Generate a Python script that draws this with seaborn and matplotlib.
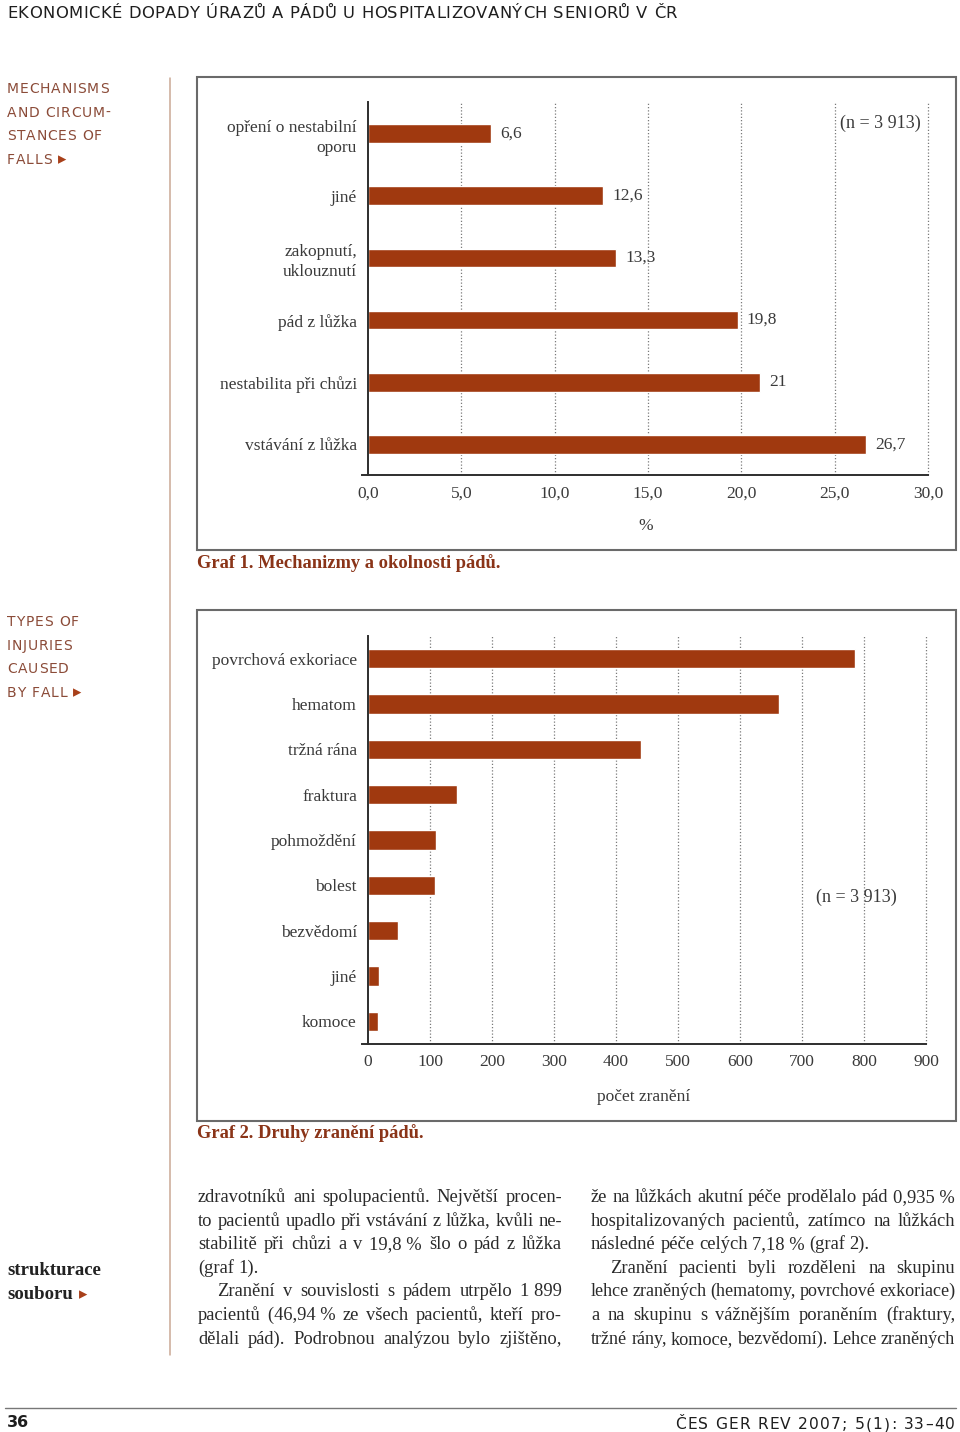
import numpy as np
import pandas as pd
import matplotlib
matplotlib.use("Agg")
import matplotlib.pyplot as plt
import seaborn as sns
from matplotlib.patches import Rectangle
from matplotlib.lines import Line2D
from matplotlib.font_manager import FontProperties

# ---------------- data ----------------
mech_labels = ["opření o nestabilní\noporu", "jiné", "zakopnutí,\nuklouznutí",
               "pád z lůžka", "nestabilita při chůzi", "vstávání z lůžka"]
mech_values = [6.6, 12.6, 13.3, 19.8, 21.0, 26.7]
mech_value_text = ["6,6", "12,6", "13,3", "19,8", "21", "26,7"]
mech_xticks = [0, 5, 10, 15, 20, 25, 30]
mech_xticklabels = ["0,0", "5,0", "10,0", "15,0", "20,0", "25,0", "30,0"]

inj_labels = ["povrchová exkoriace", "hematom", "tržná rána", "fraktura",
              "pohmoždění", "bolest", "bezvědomí", "jiné", "komoce"]
inj_values = [786, 663, 441, 144, 110, 108, 48, 17, 16]
inj_xticks = [0, 100, 200, 300, 400, 500, 600, 700, 800, 900]
inj_xticklabels = ["0", "100", "200", "300", "400", "500", "600", "700", "800", "900"]

header = "EKONOMICKÉ DOPADY ÚRAZŮ A PÁDŮ U HOSPITALIZOVANÝCH SENIORŮ V ČR"
side1 = ["MECHANISMS", "AND CIRCUM-", "STANCES OF", "FALLS"]
side2 = ["TYPES OF", "INJURIES", "CAUSED", "BY FALL"]
side3 = ["strukturace", "souboru"]
caption1 = "Graf 1. Mechanizmy a okolnosti pádů."
caption2 = "Graf 2. Druhy zranění pádů."
n_text = "(n = 3\u00a0913)"
col_left = [
    ("zdravotníků ani spolupacientů. Největší procen-", True, False),
    ("to pacientů upadlo při vstávání z lůžka, kvůli ne-", True, False),
    ("stabilitě při chůzi a v 19,8\u00a0% šlo o pád z lůžka", True, False),
    ("(graf 1).", False, False),
    ("Zranění v souvislosti s pádem utrpělo 1\u00a0899", True, True),
    ("pacientů (46,94\u00a0% ze všech pacientů, kteří pro-", True, False),
    ("dělali pád). Podrobnou analýzou bylo zjištěno,", True, False),
]
col_right = [
    ("že na lůžkách akutní péče prodělalo pád 0,935\u00a0%", True, False),
    ("hospitalizovaných pacientů, zatímco na lůžkách", True, False),
    ("následné péče celých 7,18\u00a0% (graf 2).", False, False),
    ("Zranění pacienti byli rozděleni na skupinu", True, True),
    ("lehce zraněných (hematomy, povrchové exkoriace)", True, False),
    ("a na skupinu s vážnějším poraněním (fraktury,", True, False),
    ("tržné rány, komoce, bezvědomí). Lehce zraněných", True, False),
]
footer_left = "36"
footer_right = "ČES GER REV 2007; 5(1): 33–40"

# ---------------- style ----------------
W, H = 960, 1432
sns.set_theme(style="white")
plt.rcParams["font.family"] = ["Liberation Serif", "DejaVu Serif", "DejaVu Sans"]
plt.rcParams["axes.unicode_minus"] = False

BAR = "#A0390F"
TXT = "#3a3a3a"
CAP = "#8A3418"
SIDE = "#8B4B38"
TRI = "#A8401A"
GRID = "#7a7a7a"
AXC = "#2e2e2e"
FRAME = "#6a6a6a"

fig = plt.figure(figsize=(W / 100, H / 100), dpi=100)
fig.patch.set_facecolor("white")
renderer = fig.canvas.get_renderer()


def fx(px):
    return px / W


def fy(py):
    return 1 - py / H


def T(x, y, s, **kw):
    return fig.text(fx(x), fy(y), s, **kw)


def text_w(s, fp):
    w, h, d = renderer.get_text_width_height_descent(s, fp, ismath=False)
    return w


def tracked(x0, ybase, s, fp, color, total=None, track=0.0):
    """Draw text char by char with letter spacing (to mimic an extended face)."""
    ws = []
    for ch in s:
        if ch == " ":
            ws.append(text_w("a a", fp) - text_w("aa", fp))
        else:
            ws.append(text_w(ch, fp))
    if total is not None and len(s) > 1:
        track = (total - sum(ws)) / (len(s) - 1)
    x = x0
    for ch, w in zip(s, ws):
        if ch != " ":
            T(x, ybase, ch, fontproperties=fp, color=color, va="baseline", ha="left")
        x += w + track
    return x


def style_axes(ax, xmin, xmax, ticks, ticklabels, nbands, xlabel, labelpad):
    ax.set_xlim(xmin, xmax)
    ax.set_ylim(nbands - 0.5, -0.5)
    for s in ["top", "right"]:
        ax.spines[s].set_visible(False)
    ax.spines["left"].set_position(("data", 0))
    for s in ["left", "bottom"]:
        ax.spines[s].set_color(AXC)
        ax.spines[s].set_linewidth(1.4)
    ax.set_xticks(ticks)
    ax.set_xticklabels(ticklabels)
    ax.tick_params(axis="x", direction="inout", length=8, width=1.2, color=AXC,
                   pad=3, labelsize=12.5, labelcolor=TXT)
    ax.tick_params(axis="y", which="major", length=0, pad=8, labelsize=12.5,
                   labelcolor=TXT)
    ax.set_yticks(np.arange(-0.5, nbands + 0.5, 1.0), minor=True)
    ax.tick_params(axis="y", which="minor", direction="out", length=5, width=1.2,
                   color=AXC)
    for t in ticks[1:]:
        ax.axvline(t, color=GRID, ls=(0, (1, 1.6)), lw=0.9, zorder=0, clip_on=False)
    ax.set_xlabel(xlabel, fontsize=12.5, color=TXT, labelpad=labelpad)
    ax.set_ylabel("")
    ax.set_facecolor("none")
    for lab in ax.get_yticklabels():
        lab.set_multialignment("right")
        lab.set_linespacing(1.35)


# ---------------- chart 1 ----------------
sc1 = (928 - 368) / 30.0
xmin1 = -0.3
left1 = 368 + xmin1 * sc1
ax1 = fig.add_axes([fx(left1), fy(475.5), (928 - left1) / W, (475.5 - 102.5) / H])
df1 = pd.DataFrame({"label": mech_labels, "value": mech_values})
sns.barplot(data=df1, x="value", y="label", orient="h", color=BAR, saturation=1,
            width=0.3, ax=ax1, zorder=2)
style_axes(ax1, xmin1, 30, mech_xticks, mech_xticklabels, len(mech_labels), "%", 12)
ax1.bar_label(ax1.containers[0], labels=mech_value_text, padding=6.5,
              fontsize=12.5, color=TXT)

# ---------------- chart 2 ----------------
sc2 = (926 - 368) / 900.0
xmin2 = -10
left2 = 368 + xmin2 * sc2
ax2 = fig.add_axes([fx(left2), fy(1044), (926 - left2) / W, (1044 - 636) / H])
df2 = pd.DataFrame({"label": inj_labels, "value": inj_values})
sns.barplot(data=df2, x="value", y="label", orient="h", color=BAR, saturation=1,
            width=0.42, ax=ax2, zorder=2)
style_axes(ax2, xmin2, 900, inj_xticks, inj_xticklabels, len(inj_labels),
           "počet zranění", 14)

# n labels
T(840, 123, n_text, fontsize=13, color=TXT, va="center", ha="left")
T(816, 897, n_text, fontsize=13, color=TXT, va="center", ha="left")

# ---------------- frames & rules ----------------
for (x0, y0, x1, y1) in [(197, 77, 956, 550), (197, 610, 956, 1121)]:
    fig.patches.append(Rectangle((fx(x0), fy(y1)), (x1 - x0) / W, (y1 - y0) / H,
                                 transform=fig.transFigure, fill=False,
                                 edgecolor=FRAME, lw=1.5))
fig.lines.append(Line2D([fx(170), fx(170)], [fy(78), fy(1355)],
                        transform=fig.transFigure, color="#caa894", lw=1.1))
fig.lines.append(Line2D([fx(5), fx(956)], [fy(1408), fy(1408)],
                        transform=fig.transFigure, color="#777777", lw=1.0))

# captions
T(197, 563, caption1, fontsize=13.3, color=CAP, fontweight="bold", va="center")
T(197, 1133, caption2, fontsize=13.3, color=CAP, fontweight="bold", va="center")

# header & footer (extended sans mimicked with tracking)
fp_head = FontProperties(family="DejaVu Sans", size=11.8)
tracked(7, 18, header, fp_head, "#1e1e1e", total=670)
fp_foot = FontProperties(family="DejaVu Sans", size=11.5, weight="bold")
tracked(7, 1427, footer_left, fp_foot, "#1e1e1e", total=21)
fp_foot2 = FontProperties(family="DejaVu Sans", size=11.2)
tracked(675, 1429, footer_right, fp_foot2, "#1e1e1e", total=280)

# side labels
fp_side = FontProperties(family="DejaVu Sans", size=10)
for i, line in enumerate(side1):
    xe = tracked(7, 93 + 23.7 * i, line, fp_side, SIDE, track=0.8)
T(xe + 5, 93 + 23.7 * 3, "▸", family="DejaVu Sans", fontsize=12, color=TRI,
  va="baseline")
for i, line in enumerate(side2):
    xe = tracked(7, 626 + 23.7 * i, line, fp_side, SIDE, track=0.8)
T(xe + 5, 626 + 23.7 * 3, "▸", family="DejaVu Sans", fontsize=12, color=TRI,
  va="baseline")

fp_s3 = FontProperties(family="Liberation Serif", size=13.5, weight="bold")
for i, line in enumerate(side3):
    T(7, 1275 + 24 * i, line, fontproperties=fp_s3, color="#222222", va="baseline")
T(7 + text_w(side3[-1], fp_s3) + 6, 1275 + 24, "▸", family="DejaVu Sans",
  fontsize=12, color=TRI, va="baseline")


# body text (justified, font shrunk per line if the line would be too tight)
def body_line(x0, x1, ybase, line, justify, indent):
    xs = x0 + (19 if indent else 0)
    words = line.split(" ")
    size = 13.3
    while True:
        fp = FontProperties(family="Liberation Serif", size=size)
        space_w = text_w("a a", fp) - text_w("aa", fp)
        widths = [text_w(w, fp) for w in words]
        if justify and len(words) > 1:
            gap = (x1 - xs - sum(widths)) / (len(words) - 1)
        else:
            gap = space_w
        if gap >= 0.75 * space_w or size <= 11:
            break
        size -= 0.1
    x = xs
    for w, wd in zip(words, widths):
        T(x, ybase, w, fontproperties=fp, color="#2a2a2a", va="baseline",
          ha="left")
        x += wd + gap


for i, (line, j, ind) in enumerate(col_left):
    body_line(198, 562, 1202 + 23.6 * i, line, j, ind)
for i, (line, j, ind) in enumerate(col_right):
    body_line(591, 955, 1202 + 23.6 * i, line, j, ind)

fig.savefig("out.png", dpi=100, facecolor="white")
